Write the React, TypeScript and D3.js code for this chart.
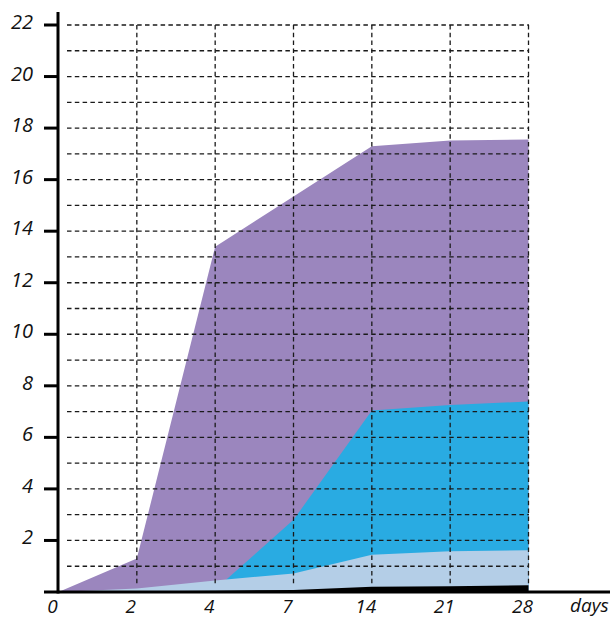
import React from "react";
import * as d3 from "d3";

const days = ["0", "2", "4", "7", "14", "21", "28"];
const purpleSeries = [0, 1.3, 13.4, 15.35, 17.3, 17.52, 17.56];
const blueSeries = [0, 0, 0.1, 2.8, 7.04, 7.26, 7.39];
const lightBlueSeries = [0, 0.14, 0.45, 0.72, 1.45, 1.58, 1.62];
const blackSeries = [0, 0.03, 0.05, 0.08, 0.2, 0.22, 0.26];
const yLabels = [2, 4, 6, 8, 10, 12, 14, 16, 18, 20, 22];
const yGrid = d3.range(1, 23);

const colors = ["#9b86be", "#29abe2", "#b4cee7", "#000000"];
const seriesList = [purpleSeries, blueSeries, lightBlueSeries, blackSeries];

export default function App() {
  const W = 616, H = 620;
  const x = d3.scalePoint<string>().domain(days).range([58.5, 528.5]);
  const y = d3.scaleLinear().domain([0, 22]).range([592, 25]);
  const font = "'Open Sans', 'Noto Sans', sans-serif";

  const area = (vals: number[]) =>
    d3
      .area<number>()
      .x((_, i) => x(days[i]) as number)
      .y0(y(0))
      .y1((d) => y(d))
      .curve(d3.curveLinear)(vals) as string;

  return (
    <svg width={W} height={H} style={{ position: "absolute", left: 0, top: 0 }}>
      <rect width={W} height={H} fill="#fff" />
      {seriesList.map((s, i) => (
        <path key={i} d={area(s)} fill={colors[i]} />
      ))}
      {yGrid.map((v) => (
        <line
          key={"h" + v}
          x1={67}
          x2={529}
          y1={y(v)}
          y2={y(v)}
          stroke="#1a1a1a"
          strokeWidth={1.3}
          strokeDasharray="4.5,3.3"
        />
      ))}
      {days.slice(1).map((d) => (
        <line
          key={"v" + d}
          x1={x(d)}
          x2={x(d)}
          y1={y(22)}
          y2={586}
          stroke="#1a1a1a"
          strokeWidth={1.3}
          strokeDasharray="4.5,3.3"
        />
      ))}
      <line x1={58} x2={58} y1={12} y2={593.5} stroke="#000" strokeWidth={3} />
      <line x1={44} x2={610} y1={592} y2={592} stroke="#000" strokeWidth={3} />
      {yLabels.map((v) => (
        <g key={"yl" + v}>
          <line x1={44} x2={58} y1={y(v)} y2={y(v)} stroke="#000" strokeWidth={3} />
          <text
            x={33}
            y={y(v) + 4}
            textAnchor="end"
            fontFamily={font}
            fontStyle="italic"
            fontSize={20}
            fill="#111"
          >
            {v}
          </text>
        </g>
      ))}
      {days.map((d) => (
        <text
          key={"xl" + d}
          x={(x(d) as number) - 6}
          y={613}
          textAnchor="middle"
          fontFamily={font}
          fontStyle="italic"
          fontSize={19}
          fill="#111"
        >
          {d}
        </text>
      ))}
      <text x={570} y={612} fontFamily={font} fontStyle="italic" fontSize={19} fill="#111">
        days
      </text>
    </svg>
  );
}
